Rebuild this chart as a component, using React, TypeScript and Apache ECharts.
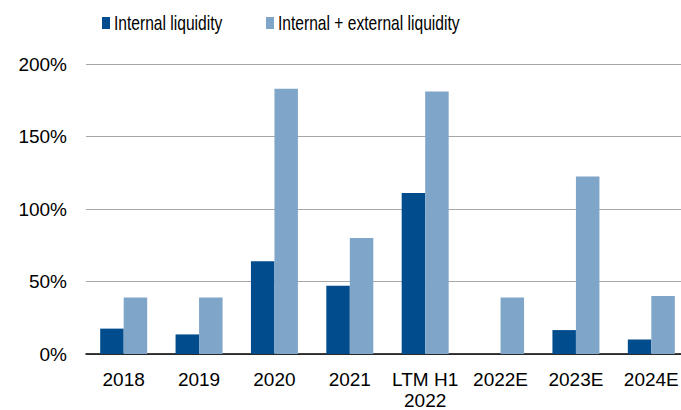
import React, { useEffect, useRef } from "react";
import * as echarts from "echarts";

const categories = ["2018", "2019", "2020", "2021", "LTM H1\n2022", "2022E", "2023E", "2024E"];
const internalLiquidity = [17.5, 13.5, 64, 47, 111, 0, 16.5, 10];
const internalExternalLiquidity = [39, 39, 183, 80, 181, 39, 122.5, 40];
const yTicks = [0, 50, 100, 150, 200];
const seriesNames = ["Internal liquidity", "Internal + external liquidity"];
const seriesColors = ["#004C8C", "#7FA6C9"];

export default function App() {
  const ref = useRef<HTMLDivElement>(null);
  useEffect(() => {
    const chart = echarts.init(ref.current!, null, { renderer: "svg" });
    const legendX = [102, 266];
    chart.setOption({
      animation: false,
      legend: { show: false, data: seriesNames },
      graphic: seriesNames.flatMap((name, i) => [
        {
          type: "rect",
          x: legendX[i],
          y: 17,
          shape: { x: 0, y: 0, width: 8, height: 12 },
          style: { fill: seriesColors[i] },
        },
        {
          type: "text",
          x: legendX[i] + 12,
          y: 23.5,
          scaleX: 0.78,
          style: {
            x: 0,
            y: 0,
            text: name,
            fill: "#000",
            fontSize: 20,
            fontFamily: "'Liberation Sans', Arial, sans-serif",
            verticalAlign: "middle",
            align: "left",
          },
        },
      ]),
      grid: {
        left: 86,
        top: 64,
        width: 603,
        height: 290,
        containLabel: false,
        outerBoundsMode: "none",
      },
      xAxis: {
        type: "category",
        data: categories,
        axisLine: { lineStyle: { color: "#000", width: 1.5 } },
        axisTick: { show: false },
        axisLabel: {
          color: "#000",
          fontSize: 19,
          fontFamily: "'Liberation Sans', Arial, sans-serif",
          margin: 15,
          lineHeight: 21,
          interval: 0,
        },
      },
      yAxis: {
        type: "value",
        min: yTicks[0],
        max: yTicks[yTicks.length - 1],
        interval: 50,
        axisLine: { show: false },
        axisTick: { show: false },
        splitLine: { lineStyle: { color: "#A6A6A6", width: 1.2 } },
        axisLabel: {
          color: "#000",
          fontSize: 19,
          fontFamily: "'Liberation Sans', Arial, sans-serif",
          margin: 19,
          formatter: (v: number) => `${v}%`,
        },
      },
      series: [
        {
          name: seriesNames[0],
          type: "bar",
          data: internalLiquidity,
          barWidth: 23.5,
          barGap: "0%",
          itemStyle: { color: seriesColors[0] },
        },
        {
          name: seriesNames[1],
          type: "bar",
          data: internalExternalLiquidity,
          barWidth: 23.5,
          barGap: "0%",
          itemStyle: { color: seriesColors[1] },
        },
      ],
    });
    return () => chart.dispose();
  }, []);
  return (
    <div
      ref={ref}
      style={{ position: "fixed", left: 0, top: 0, width: 681, height: 410, background: "#fff" }}
    />
  );
}
